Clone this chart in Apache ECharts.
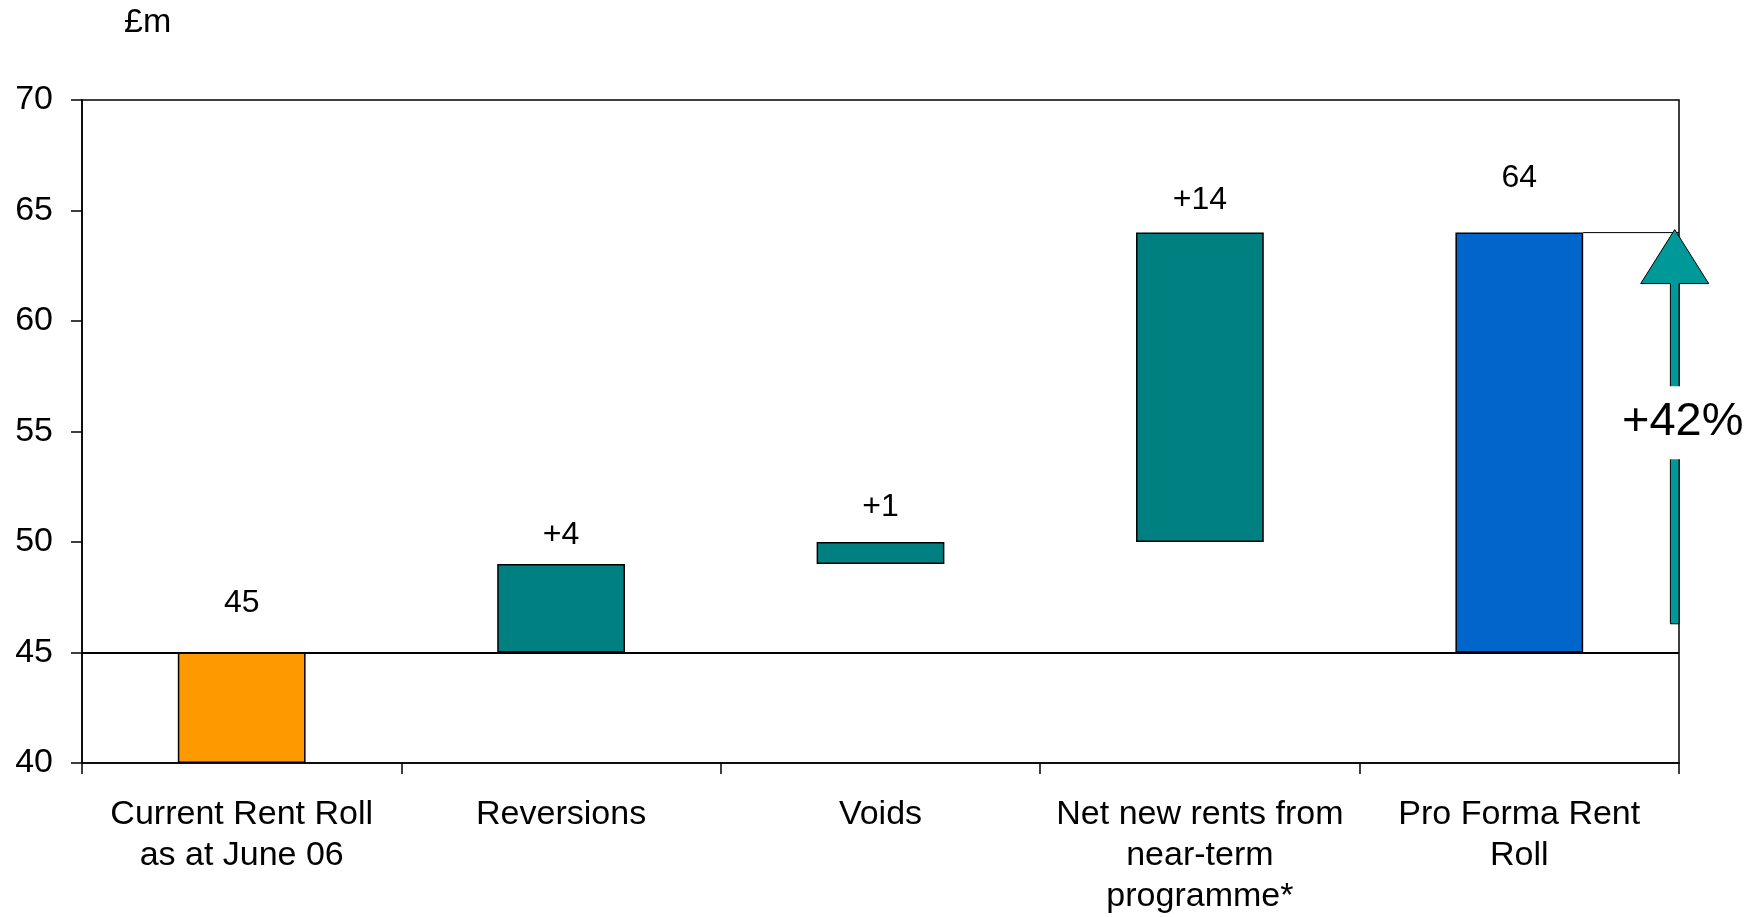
<!DOCTYPE html>
<html>
<head>
<meta charset="utf-8">
<script src="https://cdn.jsdelivr.net/npm/echarts@6/dist/echarts.min.js"></script>
<style>
  html, body { margin: 0; padding: 0; background: #fff; }
  #chart { width: 1759px; height: 917px; }
</style>
</head>
<body>
<div id="chart"></div>
<script>
// data
const categories = [
  'Current Rent Roll\nas at June 06',
  'Reversions',
  'Voids',
  'Net new rents from\nnear-term\nprogramme*',
  'Pro Forma Rent\nRoll',
];
const barBottoms = [40, 45, 49, 50, 45];
const barTops = [45, 49, 50, 64, 64];
const barLabels = ['45', '+4', '+1', '+14', '64'];
const baseLine = 45;
const growthFrom = 46.3;
const growthTo = 64;
const growthLabel = '+42%';

// styling
const barColors = ['#FF9900', '#008080', '#008080', '#008080', '#0066CC'];
const labelGaps = [33, 13, 19, 16, 38];
const font = '"Liberation Sans", Arial, sans-serif';

const chart = echarts.init(document.getElementById('chart'));

function renderGrowthArrow(params, api) {
  const catIdx = api.value(0);
  const band = api.size([1, 0])[0];
  const cx = api.coord([catIdx, api.value(1)])[0];
  const yBot = api.coord([catIdx, api.value(1)])[1];
  const yTop = api.coord([catIdx, api.value(2)])[1];
  const right = cx + band / 2;
  const barRight = cx + band * 0.2;
  const ax = right - 4.3;
  const headH = 54;
  const headW = 34;
  const sw = 4.3;
  const tip = yTop - 3;
  const midY = (yTop + yBot) / 2 - 6;

  return {
    type: 'group',
    children: [
      {
        type: 'line',
        shape: { x1: barRight, y1: yTop, x2: right, y2: yTop },
        style: { stroke: '#000', lineWidth: 1 },
      },
      {
        type: 'polygon',
        shape: {
          points: [
            [ax, tip],
            [ax + headW, tip + headH],
            [ax + sw, tip + headH],
            [ax + sw, yBot],
            [ax - sw, yBot],
            [ax - sw, tip + headH],
            [ax - headW, tip + headH],
          ],
        },
        style: { fill: '#009999', stroke: '#000', lineWidth: 1 },
      },
      {
        type: 'rect',
        shape: { x: ax - 72, y: midY - 36, width: 155, height: 73 },
        style: { fill: '#fff' },
      },
      {
        type: 'text',
        style: {
          text: growthLabel,
          x: ax + 8,
          y: midY,
          align: 'center',
          verticalAlign: 'middle',
          fill: '#000',
          font: `47px ${font}`,
        },
      },
    ],
  };
}

chart.setOption({
  animation: false,
  backgroundColor: '#fff',
  textStyle: { fontFamily: font },
  title: {
    text: '£m',
    left: 124,
    top: 6,
    padding: 0,
    textStyle: { fontSize: 34, fontWeight: 'normal', color: '#000', fontFamily: font },
  },
  grid: {
    left: 82,
    right: 80,
    top: 100,
    bottom: 151,
    show: true,
    borderColor: '#000',
    borderWidth: 1.5,
    backgroundColor: 'transparent',
  },
  xAxis: {
    type: 'category',
    data: categories,
    axisLine: { lineStyle: { color: '#000', width: 1.5 } },
    axisTick: { show: true, inside: false, length: 11, lineStyle: { color: '#000', width: 1.5 } },
    axisLabel: {
      color: '#000',
      fontSize: 34,
      lineHeight: 41,
      margin: 31,
      interval: 0,
      fontFamily: font,
    },
  },
  yAxis: {
    type: 'value',
    min: 40,
    max: 70,
    interval: 5,
    axisLine: { show: true, lineStyle: { color: '#000', width: 1.5 } },
    axisTick: { show: true, inside: false, length: 11, lineStyle: { color: '#000', width: 1.5 } },
    axisLabel: { color: '#000', fontSize: 34, margin: 29, fontFamily: font },
    splitLine: { show: false },
  },
  series: [
    {
      name: 'base',
      type: 'bar',
      stack: 'wf',
      barWidth: '40%',
      silent: true,
      itemStyle: { color: 'transparent' },
      data: barBottoms,
      markLine: {
        silent: true,
        symbol: 'none',
        label: { show: false },
        lineStyle: { color: '#000', width: 2, type: 'solid' },
        data: [{ yAxis: baseLine }],
      },
    },
    {
      name: 'change',
      type: 'bar',
      stack: 'wf',
      barWidth: '40%',
      data: barTops.map((top, i) => ({
        value: top - barBottoms[i],
        itemStyle: { color: barColors[i], borderColor: '#000', borderWidth: 1.5 },
        label: { distance: labelGaps[i] },
      })),
      label: {
        show: true,
        position: 'top',
        color: '#000',
        fontSize: 32,
        fontFamily: font,
        formatter: (p) => barLabels[p.dataIndex],
      },
    },
    {
      name: 'growth',
      type: 'custom',
      silent: true,
      clip: false,
      z: 5,
      renderItem: renderGrowthArrow,
      data: [[categories.length - 1, growthFrom, growthTo]],
    },
  ],
});
</script>
</body>
</html>
